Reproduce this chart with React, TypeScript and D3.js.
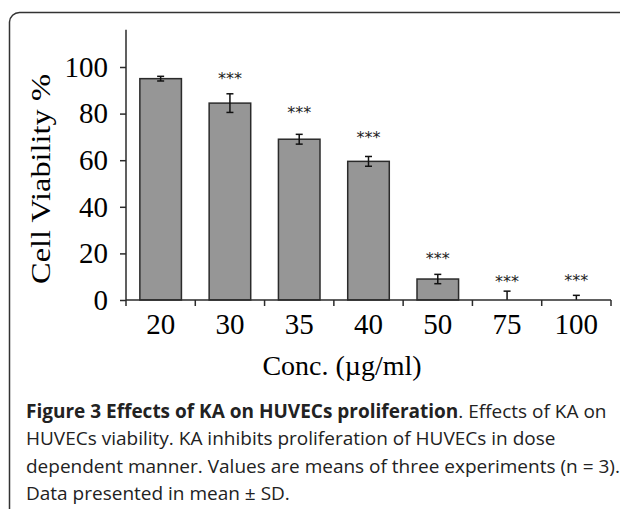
import { useEffect, useRef } from "react";
import * as d3 from "d3";

// concentration groups (µg/ml)
const concentrations = ["20", "30", "35", "40", "50", "75", "100"];
// mean cell viability %
const viability = [95, 84.5, 69, 59.5, 9, 0, 0];
// standard deviation
const sd = [1, 4, 2.1, 2.1, 2, 3.8, 2];
// significance marks and the level (in %) where they sit
const significance = ["", "***", "***", "***", "***", "***", "***"];
const starLevel = [0, 95.5, 81, 70.5, 18.5, 8.5, 9];
const yTicks = [0, 20, 40, 60, 80, 100];

const captionBold = "Figure 3 Effects of KA on HUVECs proliferation";
const captionLines = [
  ". Effects of KA on",
  "HUVECs viability. KA inhibits proliferation of HUVECs in dose",
  "dependent manner. Values are means of three experiments (n = 3).",
  "Data presented in mean \u00b1 SD.",
];

const W = 620;
const H = 509;
const serif = "'Liberation Serif', 'Times New Roman', serif";
const sans = "'Open Sans', 'Noto Sans', sans-serif";

function App() {
  const svgRef = useRef<SVGSVGElement>(null);

  useEffect(() => {
    const svg = d3.select(svgRef.current);
    svg.selectAll("*").remove();

    const x = d3.scaleBand().domain(concentrations).range([126, 611]).padding(0);
    const y = d3.scaleLinear().domain([0, 100]).range([300, 67]);
    const barW = x.bandwidth() * 0.6;
    const ink = "#2b2b2b";

    // rounded frame (top-left corner)
    svg
      .append("path")
      .attr("d", `M9.5,${H} V22 A10,10 0 0 1 19.5,12.5 H${W}`)
      .attr("fill", "none")
      .attr("stroke", "#333")
      .attr("stroke-width", 1.5);

    // bars
    svg
      .append("g")
      .selectAll("rect")
      .data(viability)
      .join("rect")
      .attr("x", (_, i) => x(concentrations[i])! + (x.bandwidth() - barW) / 2)
      .attr("y", (d) => y(d))
      .attr("width", barW)
      .attr("height", (d) => y(0) - y(d))
      .attr("fill", "#969696")
      .attr("stroke", ink)
      .attr("stroke-width", (d) => (d > 0 ? 1.5 : 0));

    // error bars
    const eb = svg
      .append("g")
      .attr("stroke", "#111")
      .attr("stroke-width", 1.5)
      .selectAll("g")
      .data(viability)
      .join("g");
    const cx = (i: number) => x(concentrations[i])! + x.bandwidth() / 2;
    eb.append("line")
      .attr("x1", (_, i) => cx(i))
      .attr("x2", (_, i) => cx(i))
      .attr("y1", (d, i) => y(Math.max(0, d - sd[i])))
      .attr("y2", (d, i) => y(d + sd[i]));
    eb.append("line")
      .attr("x1", (_, i) => cx(i) - 3.5)
      .attr("x2", (_, i) => cx(i) + 3.5)
      .attr("y1", (d, i) => y(d + sd[i]))
      .attr("y2", (d, i) => y(d + sd[i]));
    eb.filter((d, i) => d - sd[i] > 0)
      .append("line")
      .attr("x1", (_, i) => cx(i) - 3.5)
      .attr("x2", (_, i) => cx(i) + 3.5)
      .attr("y1", (d, i) => y(d - sd[i]))
      .attr("y2", (d, i) => y(d - sd[i]));

    // significance stars
    svg
      .append("g")
      .selectAll("text")
      .data(significance)
      .join("text")
      .attr("x", (_, i) => cx(i))
      .attr("y", (_, i) => y(starLevel[i]) + 7)
      .attr("text-anchor", "middle")
      .attr("font-family", "'DejaVu Sans', sans-serif")
      .attr("font-size", 16)
      .attr("fill", "#222")
      .text((d) => d);

    // y axis
    svg
      .append("line")
      .attr("x1", 126)
      .attr("x2", 126)
      .attr("y1", y(0))
      .attr("y2", y(116))
      .attr("stroke", ink)
      .attr("stroke-width", 1.5);
    const yAxis = svg
      .append("g")
      .attr("transform", "translate(126,0)")
      .call(d3.axisLeft(y).tickValues(yTicks).tickSize(6).tickPadding(12).tickSizeOuter(0));
    yAxis.select(".domain").remove();
    yAxis.selectAll(".tick line").attr("stroke", ink).attr("stroke-width", 1.5);
    yAxis
      .selectAll(".tick text")
      .attr("font-family", serif)
      .attr("font-size", 29)
      .attr("fill", "#000");

    // x axis
    svg
      .append("line")
      .attr("x1", 126)
      .attr("x2", 611)
      .attr("y1", y(0))
      .attr("y2", y(0))
      .attr("stroke", ink)
      .attr("stroke-width", 1.5);
    const boundaries = [...concentrations.map((c) => x(c)!), x.range()[1]];
    svg
      .append("g")
      .selectAll("line")
      .data(boundaries)
      .join("line")
      .attr("x1", (d) => d)
      .attr("x2", (d) => d)
      .attr("y1", y(0))
      .attr("y2", y(0) + 6)
      .attr("stroke", ink)
      .attr("stroke-width", 1.5);
    svg
      .append("g")
      .selectAll("text")
      .data(concentrations)
      .join("text")
      .attr("x", (d) => x(d)! + x.bandwidth() / 2)
      .attr("y", 334)
      .attr("text-anchor", "middle")
      .attr("font-family", serif)
      .attr("font-size", 29)
      .text((d) => d);

    // axis titles
    svg
      .append("text")
      .attr("x", 342)
      .attr("y", 375)
      .attr("text-anchor", "middle")
      .attr("font-family", serif)
      .attr("font-size", 28)
      .text("Conc. (\u00b5g/ml)");
    svg
      .append("text")
      .attr("transform", "translate(50,179) rotate(-90) scale(1.2,1)")
      .attr("text-anchor", "middle")
      .attr("font-family", serif)
      .attr("font-size", 27)
      .text("Cell Viability %");

    // caption
    const cap = svg
      .append("g")
      .attr("font-family", sans)
      .attr("font-size", 19)
      .attr("fill", "#222");
    const first = cap.append("text").attr("x", 26).attr("y", 417.5);
    first.append("tspan").attr("font-weight", "bold").text(captionBold);
    first.append("tspan").text(captionLines[0]);
    captionLines.slice(1).forEach((line, i) => {
      cap
        .append("text")
        .attr("x", 26)
        .attr("y", 445 + i * 27.5)
        .text(line);
    });
  }, []);

  return (
    <svg
      ref={svgRef}
      width={W}
      height={H}
      style={{ position: "absolute", left: 0, top: 0, background: "#fff" }}
    />
  );
}

export default App;
